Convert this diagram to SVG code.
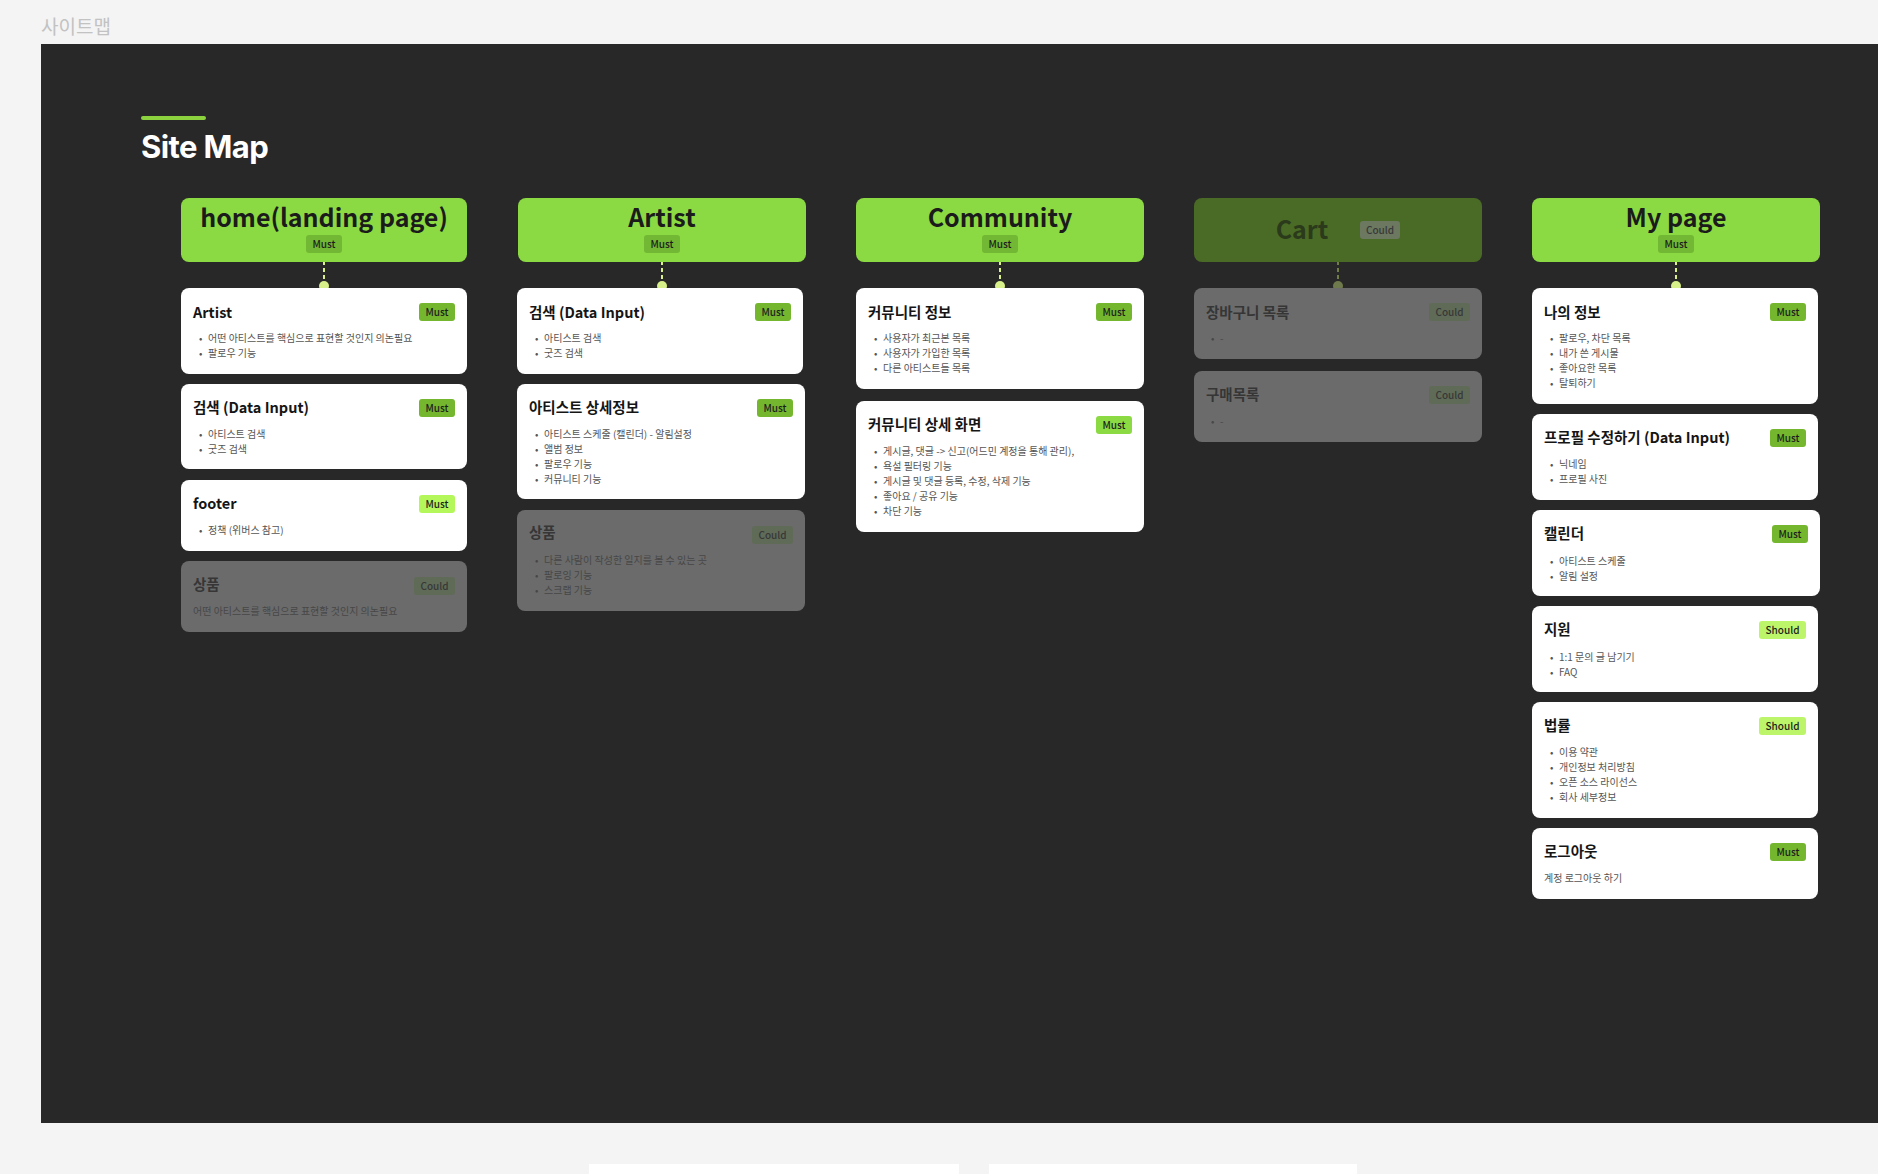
<svg xmlns="http://www.w3.org/2000/svg" width="1878" height="1174" viewBox="0 0 1878 1174">
<style>
.kr{font-family:"Noto Sans CJK KR","Noto Sans",sans-serif}
.htitle{font-family:"Noto Sans CJK KR","Noto Sans",sans-serif;font-weight:700;font-size:25px;fill:#1b1b1b;text-anchor:middle}
.hbox{fill:#8cda43}
.card{fill:#ffffff}
.gcard{fill:#6b6b6b}
.ctitle{font-family:"Noto Sans CJK KR","Noto Sans",sans-serif;font-weight:700;font-size:14.5px;fill:#151515}
.gtitle{font-family:"Noto Sans CJK KR","Noto Sans",sans-serif;font-weight:700;font-size:14.5px;fill:#363636}
.li{font-family:"Noto Sans CJK KR","Noto Sans",sans-serif;font-size:10px;fill:#555555}
.gli{font-family:"Noto Sans CJK KR","Noto Sans",sans-serif;font-size:10px;fill:#474747}
.btxt{font-family:"Noto Sans CJK KR","Noto Sans",sans-serif;font-size:10px;fill:#1d1d1d;text-anchor:middle;font-weight:500}
.gbtxt{font-family:"Noto Sans CJK KR","Noto Sans",sans-serif;font-size:10px;fill:#383838;text-anchor:middle;font-weight:500}
.must{fill:#74b72f}
.mustb{fill:#b4f75a}
.mustm{fill:#8cda43}
.should{fill:#bdf56a}
.could{fill:#5f6b57}
.hmust{fill:#72b834}
.conn{stroke:#d8f08a;stroke-width:2;stroke-dasharray:4 3;fill:none}
.dot{fill:#d8f08a}
</style>
<rect width="1878" height="1174" fill="#f4f4f4"/>
<text x="41" y="34" class="kr" font-size="19" fill="#c2c2c2">사이트맵</text>
<rect x="41" y="44" width="1837" height="1079" fill="#282828"/>
<rect x="589" y="1164" width="370" height="10" fill="#ffffff"/>
<rect x="989" y="1164" width="368" height="10" fill="#ffffff"/>
<rect x="141" y="116" width="65" height="4" rx="2" fill="#8cd13e"/>
<text x="141" y="158" font-family="Inter, 'Noto Sans', sans-serif" font-weight="700" font-size="31" fill="#ffffff" letter-spacing="-0.6">Site Map</text>

<g id="connectors">
<line class="conn" x1="324" y1="254" x2="324" y2="282"/>
<circle class="dot" cx="324" cy="286" r="5"/>
<line class="conn" x1="662" y1="254" x2="662" y2="282"/>
<circle class="dot" cx="662" cy="286" r="5"/>
<line class="conn" x1="1000" y1="254" x2="1000" y2="282"/>
<circle class="dot" cx="1000" cy="286" r="5"/>
<line x1="1338" y1="254" x2="1338" y2="282" stroke="#6f7d48" stroke-width="2" stroke-dasharray="4 3"/>
<circle cx="1338" cy="286" r="5" fill="#6f7a4c"/>
<line class="conn" x1="1676" y1="254" x2="1676" y2="282"/>
<circle class="dot" cx="1676" cy="286" r="5"/>
</g>

<!-- Column 1 -->
<g id="home">
<rect class="hbox" x="181" y="198" width="286" height="64" rx="8"/>
<text class="htitle" x="324" y="227">home(landing page)</text>
<rect class="hmust" x="306" y="235" width="36" height="18" rx="3"/>
<text class="btxt" x="324" y="248">Must</text>
</g>
<g id="home-artist">
<rect class="card" x="181" y="288" width="286" height="86" rx="8"/>
<text class="ctitle" x="193" y="318">Artist</text>
<rect class="must" x="419" y="303" width="36" height="18" rx="3"/>
<text class="btxt" x="437" y="316">Must</text>
<text class="li" x="199" y="342">•</text><text class="li" x="208" y="342">어떤 아티스트를 핵심으로 표현할 것인지 의논필요</text>
<text class="li" x="199" y="357">•</text><text class="li" x="208" y="357">팔로우 기능</text>
</g>
<g id="home-search">
<rect class="card" x="181" y="384" width="286" height="85" rx="8"/>
<text class="ctitle" x="193" y="413">검색 (Data Input)</text>
<rect class="must" x="419" y="399" width="36" height="18" rx="3"/>
<text class="btxt" x="437" y="412">Must</text>
<text class="li" x="199" y="438">•</text><text class="li" x="208" y="438">아티스트 검색</text>
<text class="li" x="199" y="453">•</text><text class="li" x="208" y="453">굿즈 검색</text>
</g>
<g id="home-footer">
<rect class="card" x="181" y="480" width="286" height="71" rx="8"/>
<text class="ctitle" x="193" y="509">footer</text>
<rect class="mustb" x="419" y="495" width="36" height="18" rx="3"/>
<text class="btxt" x="437" y="508">Must</text>
<text class="li" x="199" y="534">•</text><text class="li" x="208" y="534">정책 (위버스 참고)</text>
</g>
<g id="home-goods">
<rect class="gcard" x="181" y="561" width="286" height="71" rx="8"/>
<text class="gtitle" x="193" y="590">상품</text>
<rect class="could" x="414" y="577" width="41" height="18" rx="3"/>
<text class="gbtxt" x="434.5" y="590">Could</text>
<text class="gli" x="193" y="615">어떤 아티스트를 핵심으로 표현할 것인지 의논필요</text>
</g>

<!-- Column 2 -->
<g id="artist">
<rect class="hbox" x="518" y="198" width="288" height="64" rx="8"/>
<text class="htitle" x="662" y="227">Artist</text>
<rect class="hmust" x="644" y="235" width="36" height="18" rx="3"/>
<text class="btxt" x="662" y="248">Must</text>
</g>
<g id="artist-search">
<rect class="card" x="517" y="288" width="286" height="86" rx="8"/>
<text class="ctitle" x="529" y="318">검색 (Data Input)</text>
<rect class="must" x="755" y="303" width="36" height="18" rx="3"/>
<text class="btxt" x="773" y="316">Must</text>
<text class="li" x="535" y="342">•</text><text class="li" x="544" y="342">아티스트 검색</text>
<text class="li" x="535" y="357">•</text><text class="li" x="544" y="357">굿즈 검색</text>
</g>
<g id="artist-detail">
<rect class="card" x="517" y="384" width="288" height="115" rx="8"/>
<text class="ctitle" x="529" y="413">아티스트 상세정보</text>
<rect class="must" x="757" y="399" width="36" height="18" rx="3"/>
<text class="btxt" x="775" y="412">Must</text>
<text class="li" x="535" y="438">•</text><text class="li" x="544" y="438">아티스트 스케줄 (캘린더) - 알림설정</text>
<text class="li" x="535" y="453">•</text><text class="li" x="544" y="453">앨범 정보</text>
<text class="li" x="535" y="468">•</text><text class="li" x="544" y="468">팔로우 기능</text>
<text class="li" x="535" y="483">•</text><text class="li" x="544" y="483">커뮤니티 기능</text>
</g>
<g id="artist-goods">
<rect class="gcard" x="517" y="510" width="288" height="101" rx="8"/>
<text class="gtitle" x="529" y="538">상품</text>
<rect class="could" x="752" y="526" width="41" height="18" rx="3"/>
<text class="gbtxt" x="772.5" y="539">Could</text>
<text class="gli" x="535" y="564">•</text><text class="gli" x="544" y="564">다른 사람이 작성한 일지를 볼 수 있는 곳</text>
<text class="gli" x="535" y="579">•</text><text class="gli" x="544" y="579">팔로잉 기능</text>
<text class="gli" x="535" y="594">•</text><text class="gli" x="544" y="594">스크랩 기능</text>
</g>

<!-- Column 3 -->
<g id="community">
<rect class="hbox" x="856" y="198" width="288" height="64" rx="8"/>
<text class="htitle" x="1000" y="227">Community</text>
<rect class="hmust" x="982" y="235" width="36" height="18" rx="3"/>
<text class="btxt" x="1000" y="248">Must</text>
</g>
<g id="community-info">
<rect class="card" x="856" y="288" width="288" height="101" rx="8"/>
<text class="ctitle" x="868" y="318">커뮤니티 정보</text>
<rect class="must" x="1096" y="303" width="36" height="18" rx="3"/>
<text class="btxt" x="1114" y="316">Must</text>
<text class="li" x="874" y="342">•</text><text class="li" x="883" y="342">사용자가 최근본 목록</text>
<text class="li" x="874" y="357">•</text><text class="li" x="883" y="357">사용자가 가입한 목록</text>
<text class="li" x="874" y="372">•</text><text class="li" x="883" y="372">다른 아티스트들 목록</text>
</g>
<g id="community-detail">
<rect class="card" x="856" y="401" width="288" height="131" rx="8"/>
<text class="ctitle" x="868" y="430">커뮤니티 상세 화면</text>
<rect class="mustm" x="1096" y="416" width="36" height="18" rx="3"/>
<text class="btxt" x="1114" y="429">Must</text>
<text class="li" x="874" y="455">•</text><text class="li" x="883" y="455">게시글, 댓글 -&gt; 신고(어드민 계정을 통해 관리),</text>
<text class="li" x="874" y="470">•</text><text class="li" x="883" y="470">욕설 필터링 기능</text>
<text class="li" x="874" y="485">•</text><text class="li" x="883" y="485">게시글 및 댓글 등록, 수정, 삭제 기능</text>
<text class="li" x="874" y="500">•</text><text class="li" x="883" y="500">좋아요 / 공유 기능</text>
<text class="li" x="874" y="515">•</text><text class="li" x="883" y="515">차단 기능</text>
</g>

<!-- Column 4 -->
<g id="cart">
<rect x="1194" y="198" width="288" height="64" rx="8" fill="#4a6b26"/>
<text x="1302" y="239" font-family="'Noto Sans CJK KR','Noto Sans',sans-serif" font-weight="700" font-size="25" fill="#2a3a1b" text-anchor="middle">Cart</text>
<rect x="1360" y="221" width="40" height="18" rx="3" fill="#6c7860"/>
<text class="gbtxt" x="1380" y="234">Could</text>
</g>
<g id="cart-list">
<rect class="gcard" x="1194" y="288" width="288" height="71" rx="8"/>
<text class="gtitle" x="1206" y="318">장바구니 목록</text>
<rect class="could" x="1429" y="303" width="41" height="18" rx="3"/>
<text class="gbtxt" x="1449.5" y="316">Could</text>
<text class="gli" x="1211" y="342">•</text><text class="gli" x="1220" y="342">-</text>
</g>
<g id="cart-purchase">
<rect class="gcard" x="1194" y="371" width="288" height="71" rx="8"/>
<text class="gtitle" x="1206" y="400">구매목록</text>
<rect class="could" x="1429" y="386" width="41" height="18" rx="3"/>
<text class="gbtxt" x="1449.5" y="399">Could</text>
<text class="gli" x="1211" y="425">•</text><text class="gli" x="1220" y="425">-</text>
</g>

<!-- Column 5 -->
<g id="mypage">
<rect class="hbox" x="1532" y="198" width="288" height="64" rx="8"/>
<text class="htitle" x="1676" y="227">My page</text>
<rect class="hmust" x="1658" y="235" width="36" height="18" rx="3"/>
<text class="btxt" x="1676" y="248">Must</text>
</g>
<g id="mypage-info">
<rect class="card" x="1532" y="288" width="286" height="116" rx="8"/>
<text class="ctitle" x="1544" y="318">나의 정보</text>
<rect class="must" x="1770" y="303" width="36" height="18" rx="3"/>
<text class="btxt" x="1788" y="316">Must</text>
<text class="li" x="1550" y="342">•</text><text class="li" x="1559" y="342">팔로우, 차단 목록</text>
<text class="li" x="1550" y="357">•</text><text class="li" x="1559" y="357">내가 쓴 게시물</text>
<text class="li" x="1550" y="372">•</text><text class="li" x="1559" y="372">좋아요한 목록</text>
<text class="li" x="1550" y="387">•</text><text class="li" x="1559" y="387">탈퇴하기</text>
</g>
<g id="mypage-profile">
<rect class="card" x="1532" y="414" width="286" height="86" rx="8"/>
<text class="ctitle" x="1544" y="443">프로필 수정하기 (Data Input)</text>
<rect class="must" x="1770" y="429" width="36" height="18" rx="3"/>
<text class="btxt" x="1788" y="442">Must</text>
<text class="li" x="1550" y="468">•</text><text class="li" x="1559" y="468">닉네임</text>
<text class="li" x="1550" y="483">•</text><text class="li" x="1559" y="483">프로필 사진</text>
</g>
<g id="mypage-calendar">
<rect class="card" x="1532" y="510" width="288" height="86" rx="8"/>
<text class="ctitle" x="1544" y="539">캘린더</text>
<rect class="must" x="1772" y="525" width="36" height="18" rx="3"/>
<text class="btxt" x="1790" y="538">Must</text>
<text class="li" x="1550" y="565">•</text><text class="li" x="1559" y="565">아티스트 스케줄</text>
<text class="li" x="1550" y="580">•</text><text class="li" x="1559" y="580">알림 설정</text>
</g>
<g id="mypage-support">
<rect class="card" x="1532" y="606" width="286" height="86" rx="8"/>
<text class="ctitle" x="1544" y="635">지원</text>
<rect class="should" x="1759" y="621" width="47" height="18" rx="3"/>
<text class="btxt" x="1782.5" y="634">Should</text>
<text class="li" x="1550" y="661">•</text><text class="li" x="1559" y="661">1:1 문의 글 남기기</text>
<text class="li" x="1550" y="676">•</text><text class="li" x="1559" y="676">FAQ</text>
</g>
<g id="mypage-legal">
<rect class="card" x="1532" y="702" width="286" height="116" rx="8"/>
<text class="ctitle" x="1544" y="731">법률</text>
<rect class="should" x="1759" y="717" width="47" height="18" rx="3"/>
<text class="btxt" x="1782.5" y="730">Should</text>
<text class="li" x="1550" y="756">•</text><text class="li" x="1559" y="756">이용 약관</text>
<text class="li" x="1550" y="771">•</text><text class="li" x="1559" y="771">개인정보 처리방침</text>
<text class="li" x="1550" y="786">•</text><text class="li" x="1559" y="786">오픈 소스 라이선스</text>
<text class="li" x="1550" y="801">•</text><text class="li" x="1559" y="801">회사 세부정보</text>
</g>
<g id="mypage-logout">
<rect class="card" x="1532" y="828" width="286" height="71" rx="8"/>
<text class="ctitle" x="1544" y="857">로그아웃</text>
<rect class="must" x="1770" y="843" width="36" height="18" rx="3"/>
<text class="btxt" x="1788" y="856">Must</text>
<text class="li" x="1544" y="882">계정 로그아웃 하기</text>
</g>
</svg>
